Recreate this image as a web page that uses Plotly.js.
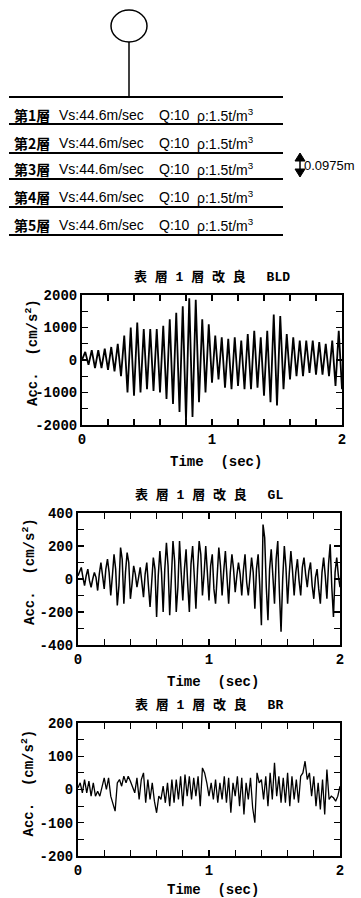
<!DOCTYPE html>
<html>
<head>
<meta charset="utf-8">
<script src="https://cdn.plot.ly/plotly-3.0.1.min.js"></script>
<style>html,body{margin:0;padding:0;background:#fff;}#chart{width:361px;height:898px;}</style>
</head>
<body>
<div id="chart"></div>
<script>
// ---------- data ----------
const layerNames = ["第1層", "第2層", "第3層", "第4層", "第5層"];
const layerVs = ["44.6", "44.6", "44.6", "44.6", "44.6"];
const layerQ = ["10", "10", "10", "10", "10"];
const layerRho = ["1.5", "1.5", "1.5", "1.5", "1.5"];
const layerThickness = "0.0975m";

const chartTitles = ["表 層 1 層 改 良 　BLD", "表 層 1 層 改 良 　GL", "表 層 1 層 改 良 　BR"];

// acceleration records (cm/s^2), sampled at fixed steps from t = 0 s
const bldStep = 0.025;
const bldAcc = [0, 250, -150, 300, -250, 300, -250, 350, -300, 400,
  -350, 500, -500, 750, -1000, 1000, -1100, 1150, -1000, 950,
  -900, 950, -950, 950, -1000, 1050, -1200, 1250, -1350, 1450,
  -1600, 1650, -1850, 1900, -1750, 1850, -1300, 1250, -1000, 1100,
  -700, 750, -600, 700, -850, 650, -900, 700, -800, 600,
  -900, 800, -900, 900, -850, 700, -1100, 900, -1300, 1400,
  -1400, 1350, -900, 800, -600, 700, -500, 600, -500, 600,
  -400, 600, -450, 550, -450, 500, -500, 600, -800, 900, -900];

const glStep = 0.0125;
const glAcc = [20, 50, 70, 10, -40, 20, 60, -10, -50, 0,
  40, 10, -70, 30, 100, 20, -60, 60, 120, 40,
  -100, 20, 150, 60, -160, -40, 190, 120, -150, 40,
  160, 100, -120, -30, 80, 30, -50, 10, 70, -20,
  -110, 30, 100, -40, -170, -20, 130, 60, -230, 20,
  170, 40, -200, 60, 220, 80, -220, 0, 230, 110,
  -200, -50, 230, 40, -130, 60, 180, -30, -200, 90,
  200, 20, -180, 60, 230, 150, -100, 30, 200, 40,
  -130, 80, 150, -60, -150, 20, 190, 80, -100, 50,
  170, 10, -150, 40, 150, 60, -80, 20, 100, 30,
  -100, 50, 150, -20, -100, 10, 130, 40, -180, 60,
  150, -40, -280, 330, 250, -50, -250, 60, 180, 20,
  -150, 120, 230, -80, -320, 0, 200, 70, -150, 30,
  170, 50, -100, 40, 120, -10, -100, 70, 130, 30,
  -50, 50, 100, -40, -120, 10, 60, -60, -150, 40,
  130, 20, -120, 90, 210, -50, -230, 40, 130, 20, -50];

const brStep = 1 / 60;
const brAcc = [5, 20, -10, 30, -10, 25, -20, 20, -20, -5,
  -20, 10, 35, 0, 35, -20, -40, -65, 20, 30,
  10, 40, 20, 40, 25, 10, -10, 35, -30, 30,
  50, -40, 30, -30, 20, -35, -70, -20, -30, 10,
  -40, 20, -50, 30, -40, 30, -30, 40, -50, 45,
  -20, 40, -30, 35, -20, 40, -50, 65, 50, 20,
  -20, 20, -30, 30, -40, 20, -30, 40, -40, 35,
  -70, 20, -20, 40, -50, 35, -75, 20, -30, 35,
  -55, -100, 50, 20, 30, -30, 40, -50, 50, -30,
  80, -20, 40, -40, 35, -40, 50, -50, 40, -30,
  30, -40, 40, 50, 85, 30, 50, -20, 40, -50,
  20, -60, 30, -75, 60, -30, -20, -25, -35, -20, 10];

const xTickVals = [0, 0.2, 0.4, 0.6, 0.8, 1, 1.2, 1.4, 1.6, 1.8, 2];
const xTickText = ["0", " ", " ", " ", " ", "1", " ", " ", " ", " ", "2"];
const y1TickVals = [-2000, -1500, -1000, -500, 0, 500, 1000, 1500, 2000];
const y1TickText = ["-2000", " ", "-1000", " ", "0", " ", "1000", " ", "2000"];
const y2TickVals = [-400, -300, -200, -100, 0, 100, 200, 300, 400];
const y2TickText = ["-400", " ", "-200", " ", "0", " ", "200", " ", "400"];
const y3TickVals = [-200, -150, -100, -50, 0, 50, 100, 150, 200];
const y3TickText = ["-200", " ", "-100", " ", "0", " ", "100", " ", "200"];

// ---------- helpers ----------
const W = 361, H = 898;
const px = x => x / W;
const py = y => 1 - y / H;
const timeOf = (arr, step) => arr.map((_, i) => +(i * step).toFixed(4));

const mono = "Liberation Mono, Courier New, monospace";
const sans = "Liberation Sans, Arial, sans-serif";

const traces = [
  {x: timeOf(bldAcc, bldStep), y: bldAcc, xaxis: "x", yaxis: "y", type: "scatter", mode: "lines",
   line: {color: "#000", width: 1.8}, hoverinfo: "skip"},
  {x: timeOf(glAcc, glStep), y: glAcc, xaxis: "x2", yaxis: "y2", type: "scatter", mode: "lines",
   line: {color: "#000", width: 1.5}, hoverinfo: "skip"},
  {x: timeOf(brAcc, brStep), y: brAcc, xaxis: "x3", yaxis: "y3", type: "scatter", mode: "lines",
   line: {color: "#000", width: 1.3}, hoverinfo: "skip"}
];

function axisBase() {
  return {ticks: "inside", ticklen: 6, tickwidth: 1.2, tickcolor: "#000",
    showline: true, linewidth: 2, linecolor: "#000", mirror: "allticks",
    showgrid: false, zeroline: false, fixedrange: true,
    tickfont: {family: mono, size: 14, color: "#000", weight: "bold"}};
}
function xAxis(domain, anchor) {
  return Object.assign(axisBase(), {domain: domain, range: [0, 2], anchor: anchor,
    tickvals: xTickVals, ticktext: xTickText});
}
function yAxis(domain, range, vals, text, anchor) {
  return Object.assign(axisBase(), {domain: domain, range: range, anchor: anchor,
    tickvals: vals, ticktext: text});
}

const plots = [
  {l: 82, r: 342, t: 295, b: 425, titleY: 277, xtitleY: 462, ytitleX: 32},
  {l: 78, r: 340, t: 513, b: 645, titleY: 495, xtitleY: 682, ytitleX: 29},
  {l: 78, r: 340, t: 723, b: 856, titleY: 705, xtitleY: 890, ytitleX: 28}
];

const annotations = [];
const shapes = [];

plots.forEach((p, i) => {
  const cx = (p.l + p.r) / 2;
  annotations.push({xref: "paper", yref: "paper", x: px(cx), y: py(p.titleY), text: chartTitles[i],
    showarrow: false, xanchor: "center", yanchor: "middle",
    font: {family: "Liberation Mono, Noto Sans CJK JP", size: 13, color: "#000", weight: "bold"}});
  annotations.push({xref: "paper", yref: "paper", x: px(cx + 4), y: py(p.xtitleY), text: "Time  (sec)",
    showarrow: false, xanchor: "center", yanchor: "middle",
    font: {family: mono, size: 14, color: "#000", weight: "bold"}});
  annotations.push({xref: "paper", yref: "paper", x: px(p.ytitleX), y: py((p.t + p.b) / 2 - 7),
    text: "Acc.  (cm/s<sup>2</sup>)", textangle: -90,
    showarrow: false, xanchor: "center", yanchor: "middle",
    font: {family: mono, size: 14, color: "#000", weight: "bold"}});
});

// ---------- soil column diagram ----------
shapes.push({type: "circle", xref: "paper", yref: "paper",
  x0: px(111), x1: px(147), y0: py(10), y1: py(42), line: {color: "#000", width: 1.5}});
shapes.push({type: "line", xref: "paper", yref: "paper",
  x0: px(129), x1: px(129), y0: py(42), y1: py(97), line: {color: "#000", width: 1.5}});
const lineYs = [97, 124, 153, 179, 207, 235];
lineYs.forEach(y => shapes.push({type: "line", xref: "paper", yref: "paper",
  x0: px(9), x1: px(283), y0: py(y), y1: py(y), line: {color: "#000", width: 2.2}}));

const rowYs = [115, 143, 169, 197, 225];
layerNames.forEach((name, i) => {
  const y = py(rowYs[i]);
  annotations.push({xref: "paper", yref: "paper", x: px(12), y: y, text: name,
    showarrow: false, xanchor: "left", yanchor: "middle",
    font: {family: "Noto Sans CJK JP", size: 14, color: "#000", weight: "bold"}});
  annotations.push({xref: "paper", yref: "paper", x: px(57), y: y, text: "Vs:" + layerVs[i] + "m/sec",
    showarrow: false, xanchor: "left", yanchor: "middle",
    font: {family: sans, size: 14, color: "#000"}});
  annotations.push({xref: "paper", yref: "paper", x: px(157), y: y, text: "Q:" + layerQ[i],
    showarrow: false, xanchor: "left", yanchor: "middle",
    font: {family: sans, size: 14, color: "#000"}});
  annotations.push({xref: "paper", yref: "paper", x: px(195), y: y,
    text: "ρ:" + layerRho[i] + "t/m<sup>3</sup>",
    showarrow: false, xanchor: "left", yanchor: "middle",
    font: {family: sans, size: 14, color: "#000"}});
});

// double arrow for the layer thickness
const tri = pts => "M " + pts.map(p => px(p[0]) + "," + py(p[1])).join(" L ") + " Z";
shapes.push({type: "path", xref: "paper", yref: "paper",
  path: tri([[300, 153], [295, 161], [305, 161]]), fillcolor: "#000", line: {color: "#000", width: 1}});
shapes.push({type: "path", xref: "paper", yref: "paper",
  path: tri([[300, 177], [295, 169], [305, 169]]), fillcolor: "#000", line: {color: "#000", width: 1}});
shapes.push({type: "line", xref: "paper", yref: "paper",
  x0: px(300), x1: px(300), y0: py(160), y1: py(170), line: {color: "#000", width: 1.5}});
annotations.push({xref: "paper", yref: "paper", x: px(302), y: py(165), text: layerThickness,
  showarrow: false, xanchor: "left", yanchor: "middle",
  font: {family: sans, size: 13, color: "#000"}});

const layout = {
  width: W, height: H, margin: {l: 0, r: 0, t: 0, b: 0},
  paper_bgcolor: "#fff", plot_bgcolor: "#fff", showlegend: false,
  xaxis: xAxis([px(plots[0].l), px(plots[0].r)], "y"),
  yaxis: yAxis([py(plots[0].b), py(plots[0].t)], [-2000, 2000], y1TickVals, y1TickText, "x"),
  xaxis2: xAxis([px(plots[1].l), px(plots[1].r)], "y2"),
  yaxis2: yAxis([py(plots[1].b), py(plots[1].t)], [-400, 400], y2TickVals, y2TickText, "x2"),
  xaxis3: xAxis([px(plots[2].l), px(plots[2].r)], "y3"),
  yaxis3: yAxis([py(plots[2].b), py(plots[2].t)], [-200, 200], y3TickVals, y3TickText, "x3"),
  annotations: annotations, shapes: shapes
};

Plotly.newPlot("chart", traces, layout, {staticPlot: true, displayModeBar: false});
</script>
</body>
</html>
